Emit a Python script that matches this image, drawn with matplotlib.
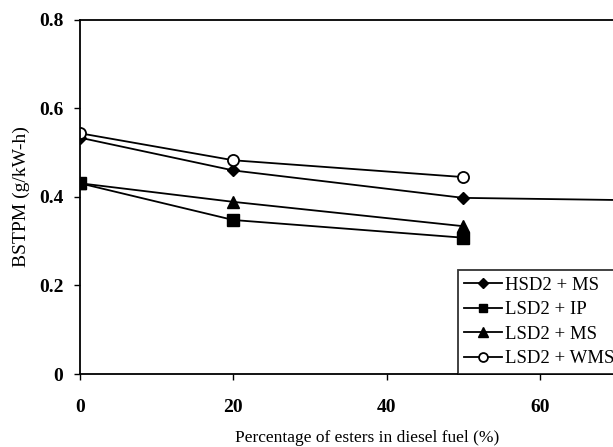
import numpy as np
import matplotlib
matplotlib.use("Agg")
import matplotlib.pyplot as plt

plt.rcParams['font.family'] = ['Liberation Serif', 'DejaVu Serif']

# ester share in the blend (%)
x_hsd2_ms = [0, 20, 50, 100]
x_lsd2 = [0, 20, 50]

# brake specific total particulate matter (g/kW-h)
hsd2_ms = [0.534, 0.460, 0.398, 0.386]
lsd2_ip = [0.431, 0.348, 0.308]
lsd2_ms = [0.431, 0.389, 0.334]
lsd2_wms = [0.544, 0.483, 0.445]

labels = ['HSD2 + MS', 'LSD2 + IP', 'LSD2 + MS', 'LSD2 + WMS']

fig = plt.figure(figsize=(6.13, 4.47), dpi=100)
ax = fig.add_axes([0.1305, 0.1633, 0.938, 0.792])

kw = dict(color='black', linewidth=1.3)
ax.plot(x_hsd2_ms, hsd2_ms, marker='D', markersize=6, label=labels[0], **kw)
ax.plot(x_lsd2, lsd2_ip, marker='s', markersize=8, label=labels[1], **kw)
ax.plot(x_lsd2, lsd2_ms, marker='^', markersize=9, label=labels[2], **kw)
ax.plot(x_lsd2, lsd2_wms, marker='o', markersize=8, markerfacecolor='white',
        markeredgewidth=1.3, label=labels[3], **kw)

ax.set_xlim(0, 75)
ax.set_ylim(0, 0.8)
ax.set_xticks([0, 20, 40, 60])
ax.set_yticks([0, 0.2, 0.4, 0.6, 0.8])
ax.set_yticklabels(['0', '0.2', '0.4', '0.6', '0.8'])
ax.tick_params(direction='out', length=4, width=1, labelsize=14, pad=8)
ax.tick_params(axis='x', pad=14)
for t in ax.get_xticklabels() + ax.get_yticklabels():
    t.set_fontweight('bold')
for s in ax.spines.values():
    s.set_linewidth(1.3)

ax.set_xlabel('Percentage of esters in diesel fuel (%)', fontsize=12.5, labelpad=10)
ax.set_ylabel('BSTPM (g/kW-h)', fontsize=14, labelpad=6)

leg = ax.legend(loc='lower left', bbox_to_anchor=(0.657, 0.0), borderaxespad=0,
                frameon=True, fancybox=False, edgecolor='black', fontsize=13.5,
                handlelength=2.0, handletextpad=0.15, labelspacing=0.4,
                borderpad=0.35, markerscale=0.8)
leg.get_frame().set_linewidth(1.3)

fig.savefig('out.png', dpi=100)
